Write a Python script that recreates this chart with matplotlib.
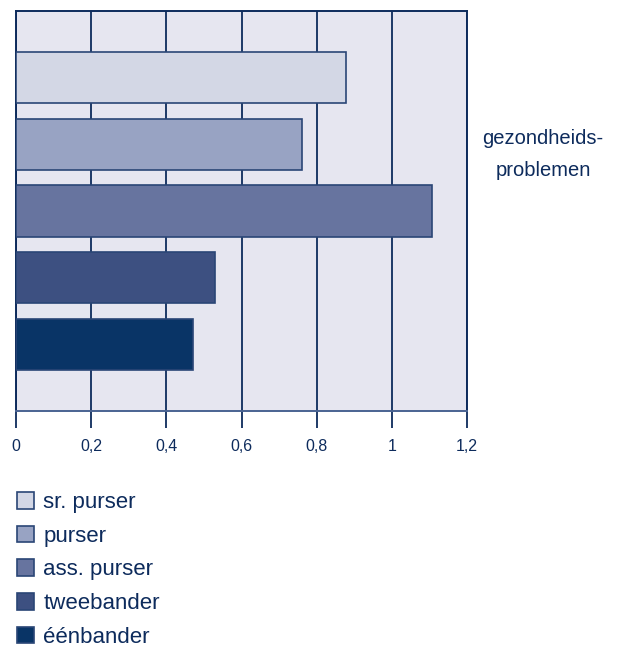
import matplotlib.pyplot as plt
from matplotlib.patches import Patch

# Bar values per function group
groups = ["sr. purser", "purser", "ass. purser", "tweebander", "éénbander"]
values = [0.877, 0.761, 1.107, 0.530, 0.471]
colors = ["#d3d7e5", "#98a3c3", "#67749f", "#3d5081", "#093466"]
xticks = [0, 0.2, 0.4, 0.6, 0.8, 1.0, 1.2]
xtick_labels = ["0", "0,2", "0,4", "0,6", "0,8", "1", "1,2"]

navy = "#0d2b5c"
plt.rcParams["font.family"] = ["Liberation Sans Narrow", "Liberation Sans", "DejaVu Sans"]

fig = plt.figure(figsize=(6.26, 6.48), dpi=100)
ax = fig.add_axes([16 / 626, 1 - 411 / 648, 451 / 626, 400 / 648])
ax.set_facecolor("#e6e6f0")

# bars from top to bottom at positions 1..5
ypos = list(range(1, len(groups) + 1))
ax.barh(ypos, values, height=0.77, color=colors, edgecolor="#2a4676",
        linewidth=1.2, zorder=3)

ax.set_xlim(0, 1.2)
ax.set_ylim(6, 0)
ax.set_xticks(xticks)
ax.set_xticklabels(xtick_labels, fontsize=11.5, color=navy)
ax.set_yticks([])
ax.tick_params(axis="x", length=12, width=1.3, color=navy, pad=8)
ax.grid(axis="x", color=navy, linewidth=1.3, zorder=1)

for side in ["top", "left", "right"]:
    ax.spines[side].set_color(navy)
    ax.spines[side].set_linewidth(1.4)
ax.spines["bottom"].set_color("#4a6392")
ax.spines["bottom"].set_linewidth(1.4)

fig.text(543 / 626, 1 - 138 / 648, "gezondheids-", ha="center", va="center",
         fontsize=14.5, color=navy)
fig.text(543 / 626, 1 - 170 / 648, "problemen", ha="center", va="center",
         fontsize=14.5, color=navy)

handles = [Patch(facecolor=c, edgecolor="#2a4676", linewidth=1.2) for c in colors]
fig.legend(handles, groups, loc="upper left", bbox_to_anchor=(17 / 626, 1 - 492 / 648),
           frameon=False, fontsize=16, labelcolor=navy,
           handlelength=0.77, handleheight=0.77, handletextpad=0.42,
           labelspacing=0.57, borderpad=0, borderaxespad=0)

fig.savefig("out.png", dpi=100)
